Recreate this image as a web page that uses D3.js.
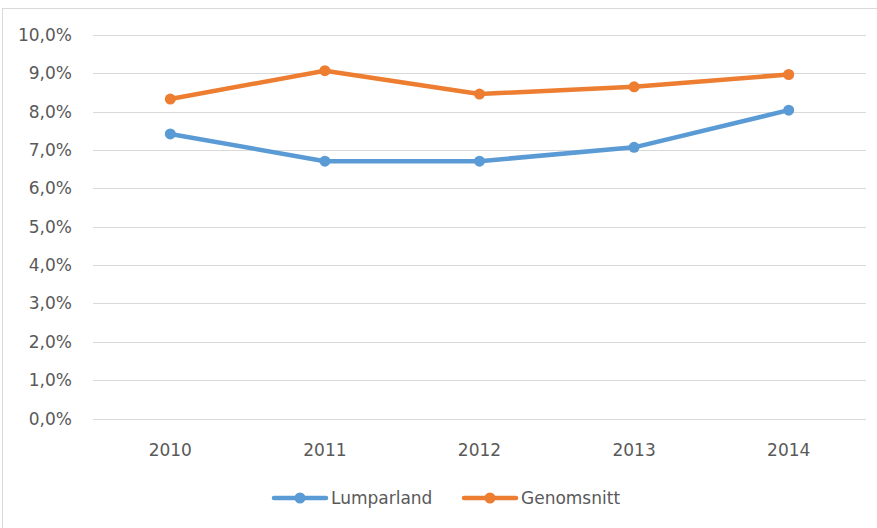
<html>
<head>
<meta charset="utf-8">
<script src="https://cdn.jsdelivr.net/npm/d3@7"></script>
<style>
  body { margin: 0; background: white; }
  text { font-family: "DejaVu Sans", sans-serif; fill: #595959; }
</style>
</head>
<body>
<script>
// DATA
var years = ["2010", "2011", "2012", "2013", "2014"];
var lumparland = [7.42, 6.71, 6.71, 7.07, 8.04];
var genomsnitt = [8.33, 9.07, 8.46, 8.65, 8.97];
var yTicks = [0, 1, 2, 3, 4, 5, 6, 7, 8, 9, 10];
var seriesNames = ["Lumparland", "Genomsnitt"];
var seriesColors = ["#5B9BD5", "#ED7D31"];

var W = 877, H = 528;
var svg = d3.select("body").append("svg")
  .attr("width", W).attr("height", H);

// chart frame
svg.append("rect")
  .attr("x", 2.5).attr("y", 8.5)
  .attr("width", 900).attr("height", 600)
  .style("fill", "none").style("stroke", "#D9D9D9");

var x = d3.scaleBand().domain(years).range([93, 866]);
var y = d3.scaleLinear().domain([0, 10]).range([418.5, 35]);

// gridlines
svg.selectAll(".grid").data(yTicks).enter().append("line")
  .attr("x1", 93).attr("x2", 866)
  .attr("y1", function(d){ return Math.round(y(d)) + 0.5; })
  .attr("y2", function(d){ return Math.round(y(d)) + 0.5; })
  .style("stroke", "#D9D9D9").style("stroke-width", 1);

// y labels
svg.selectAll(".ylab").data(yTicks).enter().append("text")
  .attr("x", 72).attr("y", function(d){ return y(d) + 6; })
  .attr("text-anchor", "end").style("font-size", "17px")
  .text(function(d){ return d.toFixed(1).replace(".", ",") + "%"; });

// x labels
svg.selectAll(".xlab").data(years).enter().append("text")
  .attr("x", function(d){ return x(d) + x.bandwidth() / 2; })
  .attr("y", 456).attr("text-anchor", "middle").style("font-size", "17px")
  .text(function(d){ return d; });

// series
var allSeries = [lumparland, genomsnitt];
var line = d3.line()
  .x(function(d, i){ return x(years[i]) + x.bandwidth() / 2; })
  .y(function(d){ return y(d); });

allSeries.forEach(function(vals, s) {
  svg.append("path").datum(vals)
    .attr("d", line)
    .style("fill", "none").style("stroke", seriesColors[s])
    .style("stroke-width", 4.5).style("stroke-linejoin", "round");
  svg.selectAll(".pt" + s).data(vals).enter().append("circle")
    .attr("cx", function(d, i){ return x(years[i]) + x.bandwidth() / 2; })
    .attr("cy", function(d){ return y(d); })
    .attr("r", 5.5).style("fill", seriesColors[s]);
});

// legend
var legendX = [274, 464];
seriesNames.forEach(function(name, s) {
  var g = svg.append("g").attr("transform", "translate(" + legendX[s] + ",498)");
  g.append("line").attr("x1", 0).attr("x2", 52).attr("y1", 0).attr("y2", 0)
    .style("stroke", seriesColors[s]).style("stroke-width", 4.5)
    .style("stroke-linecap", "round");
  g.append("circle").attr("cx", 26).attr("cy", 0).attr("r", 5.5)
    .style("fill", seriesColors[s]);
  g.append("text").attr("x", 57).attr("y", 6).style("font-size", "17px")
    .text(name);
});
</script>
</body>
</html>
